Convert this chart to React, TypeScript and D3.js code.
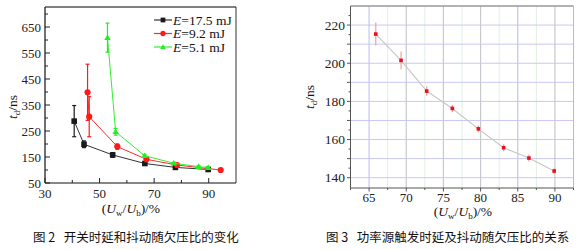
import React from "react";
import * as d3 from "d3";

// ---- Figure 2 data ----
const seriesNames = ["17.5 mJ", "9.2 mJ", "5.1 mJ"];
const blackX = [40.7, 44.3, 54.8, 66.6, 77.8, 89.8];
const blackY = [288, 199, 158, 125, 110, 102];
const blackErr = [60, 13, 9, 4, 4, 4];
const redX = [45.6, 46.2, 56.5, 67.2, 78.4, 94.4];
const redY = [399, 305, 190, 141, 119, 100];
const redErr = [108, 77, 10, 5, 4, 4];
const greenX = [52.9, 55.9, 66.5, 77.2, 86.3, 89.8];
const greenY = [609, 247, 155, 126, 113, 109];
const greenErr = [56, 13, 5, 4, 4, 4];
const leftXTicks = [30, 50, 70, 90];
const leftYTicks = [50, 150, 250, 350, 450, 550, 650];

// ---- Figure 3 data ----
const ratioX = [65.9, 69.3, 72.75, 76.2, 79.7, 83.1, 86.5, 89.9];
const delayY = [215.3, 201.5, 185.4, 176.3, 165.6, 155.7, 150.3, 143.5];
const jitter = [6, 4.7, 2.5, 2, 1.8, 1.8, 1.8, 1.5];
const rightXTicks = [65, 70, 75, 80, 85, 90];
const rightYTicks = [140, 160, 180, 200, 220];

const serif = "Liberation Serif, Times New Roman, DejaVu Serif, serif";
const cjk = "Noto Sans CJK SC, sans-serif";

function LeftChart() {
  const x = d3.scaleLinear().domain([30, 100]).range([45, 236]);
  const y = d3.scaleLinear().domain([50, 727]).range([183, 7]);
  const line = d3
    .line<[number, number]>()
    .x((d) => x(d[0]))
    .y((d) => y(d[1]));
  const series = [
    { xs: blackX, ys: blackY, es: blackErr, color: "#1a1a1a", lineColor: "#333", marker: "square" },
    { xs: redX, ys: redY, es: redErr, color: "#ff1a1a", lineColor: "#ff2a2a", marker: "circle" },
    { xs: greenX, ys: greenY, es: greenErr, color: "#22ee22", lineColor: "#33ee33", marker: "triangle" },
  ];
  const marker = (m: string, cx: number, cy: number, color: string, key: string, s = 1) => {
    if (m === "square")
      return <rect key={key} x={cx - 2.8 * s} y={cy - 2.8 * s} width={5.6 * s} height={5.6 * s} fill={color} />;
    if (m === "circle") return <circle key={key} cx={cx} cy={cy} r={3.1 * s} fill={color} />;
    const h = 3.3 * s;
    return (
      <path
        key={key}
        d={`M${cx},${cy - h}L${cx + h},${cy + h * 0.7}L${cx - h},${cy + h * 0.7}Z`}
        fill={color}
      />
    );
  };
  const xMinor = d3.range(30, 100, 10);
  const yMinor = d3.range(50, 727, 50);
  return (
    <g>
      <line x1={45} y1={7} x2={236} y2={7} stroke="#808080" strokeWidth={2} />
      <line x1={236} y1={7} x2={236} y2={183} stroke="#333" strokeWidth={1} />
      <line x1={45} y1={7} x2={45} y2={183} stroke="#111" strokeWidth={1.2} />
      <line x1={45} y1={183} x2={236} y2={183} stroke="#111" strokeWidth={1.2} />
      {xMinor.map((v) => (
        <line key={"xt" + v} x1={x(v)} x2={x(v)} y1={183} y2={leftXTicks.includes(v) ? 178 : 180} stroke="#222" />
      ))}
      {yMinor.map((v) => (
        <line key={"yt" + v} x1={45} x2={leftYTicks.includes(v) ? 50 : 48} y1={y(v)} y2={y(v)} stroke="#222" />
      ))}
      {leftXTicks.map((v) => (
        <text key={"xl" + v} x={x(v)} y={198} textAnchor="middle" fontFamily={serif} fontSize={13} fill="#222">
          {v}
        </text>
      ))}
      {leftYTicks.map((v) => (
        <text key={"yl" + v} x={41} y={y(v) + 4.5} textAnchor="end" fontFamily={serif} fontSize={13} fill="#222">
          {v}
        </text>
      ))}
      {series.map((s, i) => {
        const pts = s.xs.map((v, j) => [v, s.ys[j]] as [number, number]);
        return (
          <g key={"s" + i}>
            <path d={line(pts) || ""} fill="none" stroke={s.lineColor} strokeWidth={1} />
            {pts.map((p, j) => {
              const cx = x(p[0]);
              const t = y(p[1] + s.es[j]);
              const b = y(p[1] - s.es[j]);
              return (
                <g key={"e" + j} stroke={s.color} strokeWidth={1.2}>
                  <line x1={cx} x2={cx} y1={t} y2={b} />
                  <line x1={cx - 2} x2={cx + 2} y1={t} y2={t} />
                  <line x1={cx - 2} x2={cx + 2} y1={b} y2={b} />
                </g>
              );
            })}
            {pts.map((p, j) => marker(s.marker, x(p[0]), y(p[1]), s.color, "m" + j))}
          </g>
        );
      })}
      {series.map((s, i) => {
        const ly = 20 + i * 13.5;
        return (
          <g key={"lg" + i}>
            <line x1={154} x2={172} y1={ly} y2={ly} stroke={s.lineColor} strokeWidth={1.2} />
            {marker(s.marker, 163, ly, s.color, "lm" + i, 0.85)}
            <text x={173} y={ly + 4.5} fontFamily={serif} fontSize={13.5} fill="#111">
              <tspan fontStyle="italic">E</tspan>={seriesNames[i]}
            </text>
          </g>
        );
      })}
      <text transform="translate(17,107) rotate(-90)" textAnchor="middle" fontFamily={serif} fontSize={13.5} fill="#111">
        <tspan fontStyle="italic">t</tspan>
        <tspan fontSize={9} dy={3}>d</tspan>
        <tspan dy={-3}>/ns</tspan>
      </text>
      <text x={131} y={213} textAnchor="middle" fontFamily={serif} fontSize={13.5} fill="#111">
        (<tspan fontStyle="italic">U</tspan>
        <tspan fontSize={9} dy={3}>w</tspan>
        <tspan dy={-3}>/</tspan>
        <tspan fontStyle="italic">U</tspan>
        <tspan fontSize={9} dy={3}>b</tspan>
        <tspan dy={-3}>)/%</tspan>
      </text>
      <text x={33} y={242} fontFamily={cjk} fontSize={12.5} fill="#111" style={{ whiteSpace: "pre" }}>
        {"图 2   开关时延和抖动随欠压比的变化"}
      </text>
    </g>
  );
}

function RightChart() {
  const x = d3.scaleLinear().domain([62.5, 92.5]).range([350.5, 573.5]);
  const y = d3.scaleLinear().domain([134.6, 230]).range([188, 6]);
  const line = d3
    .line<[number, number]>()
    .x((d) => x(d[0]))
    .y((d) => y(d[1]));
  const pts = ratioX.map((v, i) => [v, delayY[i]] as [number, number]);
  const hGrid = d3.range(140, 230, 10);
  const vMajor = rightXTicks;
  const vMinor = d3.range(62.5, 92.6, 2.5).filter((v) => !vMajor.includes(v));
  const vColor = (v: number) => (v === 65 || v === 85 ? "#c4c4f2" : "#c8c8d0");
  return (
    <g>
      {vMinor.map((v) => (
        <line key={"vm" + v} x1={x(v)} x2={x(v)} y1={6} y2={188} stroke="#e2f0e2" strokeWidth={1} />
      ))}
      {hGrid.map((v) => (
        <line key={"hg" + v} x1={351} x2={573} y1={y(v)} y2={y(v)} stroke="#c8c8f4" strokeWidth={1} />
      ))}
      {vMajor.map((v) => (
        <line key={"vg" + v} x1={x(v)} x2={x(v)} y1={6} y2={188} stroke={vColor(v)} strokeWidth={1.2} />
      ))}
      <line x1={350.5} x2={573.5} y1={6} y2={6} stroke="#999" strokeWidth={1.5} />
      <line x1={573.5} x2={573.5} y1={6} y2={188} stroke="#bbb" strokeWidth={1} />
      <line x1={350.5} x2={350.5} y1={6} y2={188} stroke="#555" strokeWidth={1} />
      <line x1={350.5} x2={573.5} y1={188} y2={188} stroke="#555" strokeWidth={1} />
      {d3.range(140, 230, 5).map((v) => (
        <line key={"yt" + v} x1={350.5} x2={v % 10 === 0 ? 347 : 348.5} y1={y(v)} y2={y(v)} stroke="#555" />
      ))}
      {d3.range(62.5, 92.6, 2.5).map((v) => (
        <line key={"xt" + v} x1={x(v)} x2={x(v)} y1={188} y2={v % 5 === 0 ? 191.5 : 190} stroke="#555" />
      ))}
      {rightXTicks.map((v) => (
        <text key={"xl" + v} x={x(v)} y={202} textAnchor="middle" fontFamily={serif} fontSize={13} fill="#222">
          {v}
        </text>
      ))}
      {rightYTicks.map((v) => (
        <text key={"yl" + v} x={345} y={y(v) + 4.5} textAnchor="end" fontFamily={serif} fontSize={13.5} fill="#222">
          {v}
        </text>
      ))}
      <path d={line(pts) || ""} fill="none" stroke="#c8c8c8" strokeWidth={1.2} />
      {pts.map((p, i) => (
        <line
          key={"er" + i}
          x1={x(p[0])}
          x2={x(p[0])}
          y1={y(p[1] + jitter[i])}
          y2={y(p[1] - jitter[i])}
          stroke="#f2a0a0"
          strokeWidth={1.2}
        />
      ))}
      {pts.map((p, i) => (
        <rect key={"pt" + i} x={x(p[0]) - 1.8} y={y(p[1]) - 1.8} width={3.6} height={3.6} fill="#e8101a" />
      ))}
      <text transform="translate(314,97) rotate(-90)" textAnchor="middle" fontFamily={serif} fontSize={13.5} fill="#111">
        <tspan fontStyle="italic">t</tspan>
        <tspan fontSize={9} dy={3}>d</tspan>
        <tspan dy={-3}>/ns</tspan>
      </text>
      <text x={463} y={216} textAnchor="middle" fontFamily={serif} fontSize={13.5} fill="#111">
        (<tspan fontStyle="italic">U</tspan>
        <tspan fontSize={9} dy={3}>w</tspan>
        <tspan dy={-3}>/</tspan>
        <tspan fontStyle="italic">U</tspan>
        <tspan fontSize={9} dy={3}>b</tspan>
        <tspan dy={-3}>)/%</tspan>
      </text>
      <text x={326} y={242} fontFamily={cjk} fontSize={12.5} fill="#111" style={{ whiteSpace: "pre" }}>
        {"图 3   功率源触发时延及抖动随欠压比的关系"}
      </text>
    </g>
  );
}

export default function App() {
  return (
    <svg
      width={581}
      height={250}
      viewBox="0 0 581 250"
      style={{ position: "absolute", left: 0, top: 0, background: "#fff" }}
    >
      <rect x={0} y={0} width={581} height={250} fill="#fff" />
      <LeftChart />
      <RightChart />
    </svg>
  );
}
